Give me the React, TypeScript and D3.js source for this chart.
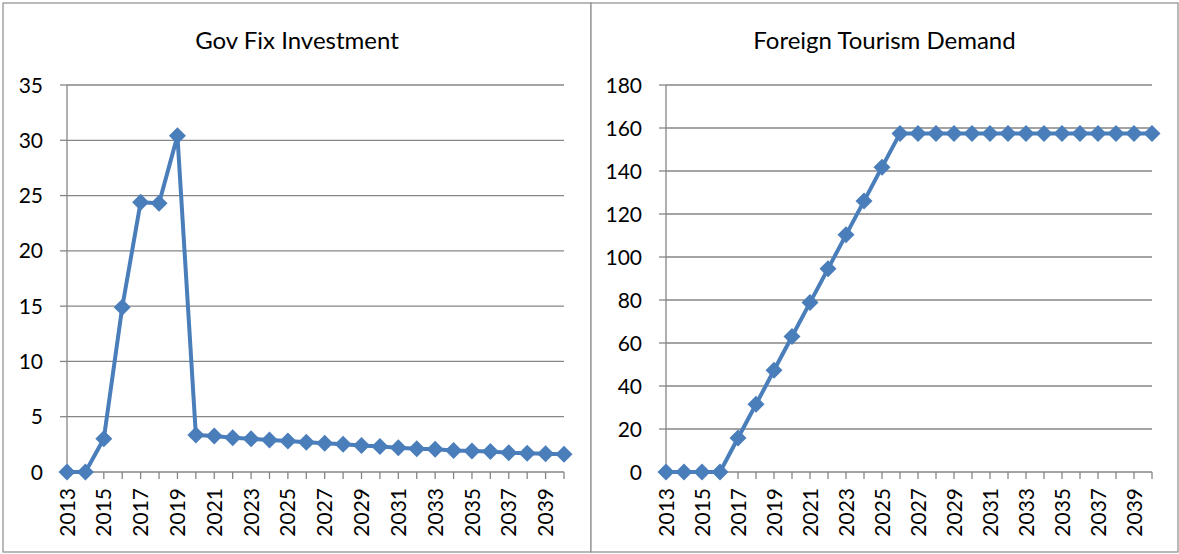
import React from "react";
import * as d3 from "d3";

const years = [2013, 2014, 2015, 2016, 2017, 2018, 2019, 2020, 2021, 2022, 2023, 2024, 2025, 2026, 2027, 2028, 2029, 2030, 2031, 2032, 2033, 2034, 2035, 2036, 2037, 2038, 2039, 2040];

const govFixInvestment = [0, 0, 3.0, 14.9, 24.4, 24.3, 30.4, 3.35, 3.25, 3.1, 3.0, 2.9, 2.8, 2.7, 2.6, 2.5, 2.4, 2.3, 2.2, 2.1, 2.05, 1.95, 1.9, 1.85, 1.75, 1.7, 1.65, 1.6];

const foreignTourismDemand = [0, 0, 0, 0, 15.8, 31.5, 47.3, 63.0, 78.8, 94.5, 110.3, 126.0, 141.8, 157.5, 157.5, 157.5, 157.5, 157.5, 157.5, 157.5, 157.5, 157.5, 157.5, 157.5, 157.5, 157.5, 157.5, 157.5];

const govTicks = [0, 5, 10, 15, 20, 25, 30, 35];
const tourismTicks = [0, 20, 40, 60, 80, 100, 120, 140, 160, 180];

const titles = ["Gov Fix Investment", "Foreign Tourism Demand"];

const BLUE = "#4a7ebb";
const GRID = "#868686";
const FONT = "Lato, 'Open Sans', sans-serif";

type PanelProps = {
  title: string;
  values: number[];
  ticks: number[];
  left: number;
  right: number;
  x0: number;
  x1: number;
};

function Panel({ title, values, ticks, left, right, x0, x1 }: PanelProps) {
  const yTop = 85;
  const yBottom = 472;
  const x = d3.scalePoint<number>().domain(years).range([x0, x1]);
  const y = d3.scaleLinear().domain([0, ticks[ticks.length - 1]]).range([yBottom, yTop]);
  const line = d3
    .line<number>()
    .x((_, i) => x(years[i]) as number)
    .y((d) => y(d));
  const s = 8.5;
  const diamond = `M0,${-s}L${s},0L0,${s}L${-s},0Z`;
  return (
    <g>
      <rect x={left} y={3} width={right - left} height={549} fill="#fff" stroke="#8c8c8c" strokeWidth={1.2} />
      <text x={(left + right) / 2} y={49} textAnchor="middle" fontFamily={FONT} fontSize={24} fill="#000">
        {title}
      </text>
      {ticks.map((t) => (
        <g key={t}>
          {t > 0 && <line x1={x0} x2={x1} y1={y(t)} y2={y(t)} stroke={GRID} strokeWidth={1.3} />}
          <line x1={x0 - 7} x2={x0} y1={y(t)} y2={y(t)} stroke={GRID} strokeWidth={1.3} />
          <text x={x0 - 24} y={y(t)} dy="0.36em" textAnchor="end" fontFamily={FONT} fontSize={21} fill="#000">
            {t}
          </text>
        </g>
      ))}
      <line x1={x0} x2={x0} y1={yTop} y2={yBottom} stroke={GRID} strokeWidth={1.3} />
      <line x1={x0} x2={x1} y1={yBottom} y2={yBottom} stroke={GRID} strokeWidth={1.3} />
      {years.map((yr, i) => (
        <g key={yr}>
          <line x1={x(yr)} x2={x(yr)} y1={yBottom} y2={yBottom + 7} stroke={GRID} strokeWidth={1.3} />
          {i % 2 === 0 && (
            <text
              transform={`translate(${x(yr)},488) rotate(-90)`}
              textAnchor="end"
              dy="0.36em"
              fontFamily={FONT}
              fontSize={21}
              fill="#000"
            >
              {yr}
            </text>
          )}
        </g>
      ))}
      <path d={line(values) || ""} fill="none" stroke={BLUE} strokeWidth={4} strokeLinejoin="round" />
      {values.map((v, i) => (
        <path key={i} d={diamond} transform={`translate(${x(years[i])},${y(v)})`} fill={BLUE} />
      ))}
    </g>
  );
}

export default function App() {
  return (
    <svg width={1179} height={554} style={{ position: "absolute", left: 0, top: 0, background: "#fff" }}>
      <rect width={1179} height={554} fill="#fff" />
      <Panel title={titles[0]} values={govFixInvestment} ticks={govTicks} left={3} right={591} x0={67} x1={564} />
      <Panel title={titles[1]} values={foreignTourismDemand} ticks={tourismTicks} left={591} right={1178} x0={666} x1={1152} />
    </svg>
  );
}
